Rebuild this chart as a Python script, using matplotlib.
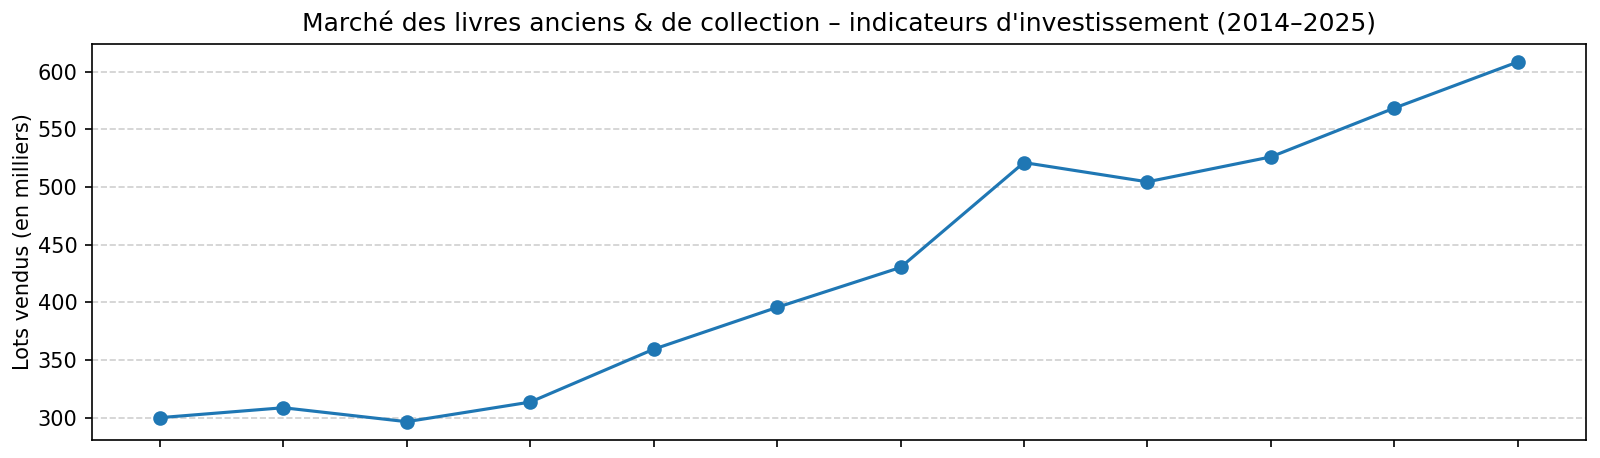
import matplotlib
matplotlib.use("Agg")
from matplotlib import pyplot as plt

years = [2014, 2015, 2016, 2017, 2018, 2019, 2020, 2021, 2022, 2023, 2024, 2025]
lots_sold = [300, 308.6, 296.5, 313.5, 359.3, 395.6, 430.2, 521.1, 504.4, 526, 568.3, 608.3]

fig, ax = plt.subplots(figsize=(1600 / 150, 458 / 150), dpi=150)

ax.plot(years, lots_sold, marker="o", color="#1f77b4")
ax.set_title("Marché des livres anciens & de collection – indicateurs d'investissement (2014–2025)")
ax.set_ylabel("Lots vendus (en milliers)", labelpad=2)
ax.set_xticks(years)
ax.set_xticklabels([])
ax.grid(True, axis="y", linestyle="--", alpha=0.6)

fig.subplots_adjust(left=0.0575, right=0.991, top=0.904, bottom=0.04)
plt.savefig("out.png", dpi=150)
plt.close(fig)
